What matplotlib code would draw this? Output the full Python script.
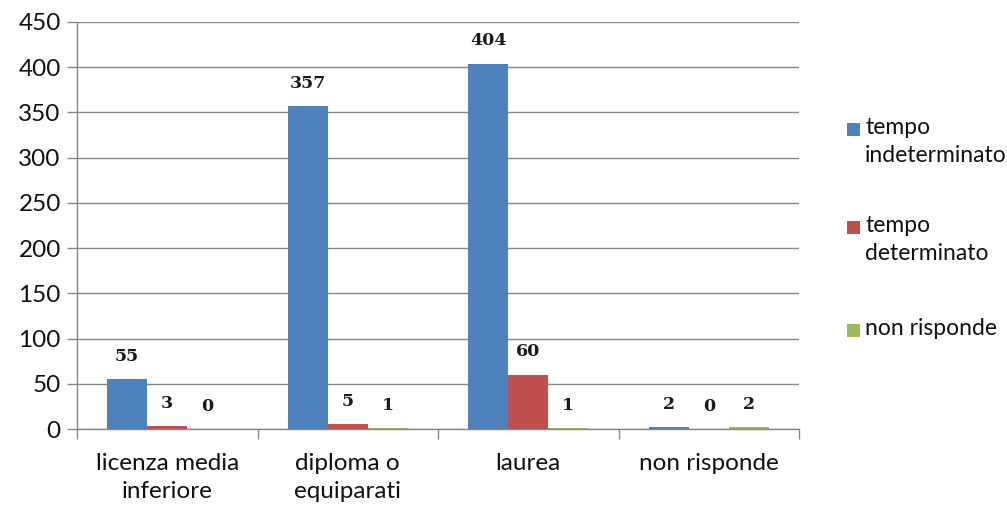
import matplotlib
matplotlib.use("Agg")
import matplotlib.pyplot as plt
from matplotlib.patches import Rectangle
import numpy as np

categories = ["licenza media\ninferiore", "diploma o\nequiparati", "laurea", "non risponde"]
series_names = ["tempo\nindeterminato", "tempo\ndeterminato", "non risponde"]
indeterminato = [55, 357, 404, 2]
determinato = [3, 5, 60, 0]
non_risponde = [0, 1, 1, 2]
series_values = [indeterminato, determinato, non_risponde]
colors = ["#4F81BD", "#C0504D", "#9BBB59"]
yticks = [0, 50, 100, 150, 200, 250, 300, 350, 400, 450]

W, H = 1007, 512
fig = plt.figure(figsize=(W / 100, H / 100), dpi=100)
ax = fig.add_axes([77 / W, 1 - 429 / H, (799 - 77) / W, (429 - 22) / H])

grid_col = "#878787"
font = "Lato"
x = np.arange(len(categories))
bw = 1 / 4.5
for i, (vals, c) in enumerate(zip(series_values, colors)):
    pos = x + (i - 1) * bw
    ax.bar(pos, vals, width=bw, color=c, edgecolor="none", zorder=2)
    for px, v in zip(pos, vals):
        ax.annotate(str(v), xy=(px, v), xytext=(0, 16.5), textcoords="offset points",
                    ha="center", va="center", fontsize=12.5, family="DejaVu Serif",
                    fontweight="bold", color="#1a1a1a")

ax.set_xlim(-0.5, len(categories) - 0.5)
ax.set_ylim(0, 450)
ax.set_yticks(yticks)
ax.set_yticklabels([str(t) for t in yticks], fontsize=17.5, family=font, color="#111111")
ax.yaxis.grid(True, color=grid_col, linewidth=1)
ax.set_axisbelow(True)
ax.tick_params(axis="y", length=7.2, width=1, color=grid_col, pad=4.5)

ax.set_xticks(x)
ax.set_xticklabels(categories, fontsize=17.5, family=font, color="#111111")
for lab in ax.get_xticklabels():
    lab.set_linespacing(1.45)
ax.tick_params(axis="x", which="major", length=0, pad=17)
ax.set_xticks(np.arange(-0.5, len(categories), 1.0), minor=True)
ax.tick_params(axis="x", which="minor", length=7.2, width=1, color=grid_col)

for s in ["top", "right"]:
    ax.spines[s].set_visible(False)
for s in ["left", "bottom"]:
    ax.spines[s].set_color(grid_col)
    ax.spines[s].set_linewidth(1)

# legend
leg_tops = [123, 221, 324]
for name, c, top in zip(series_names, colors, leg_tops):
    fig.patches.append(Rectangle((847 / W, 1 - (top + 13) / H), 13 / W, 13 / H,
                                 transform=fig.transFigure, facecolor=c, edgecolor="none"))
    fig.text(865 / W, 1 - (top - 6) / H, name, fontsize=16.5, family=font,
             va="top", ha="left", linespacing=1.4, color="#111111")

fig.savefig("out.png", dpi=100)
